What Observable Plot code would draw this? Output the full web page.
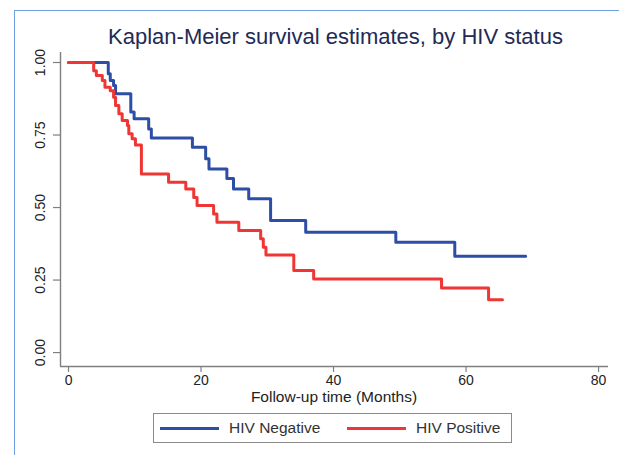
<!DOCTYPE html>
<html><head><meta charset="utf-8">
<script src="https://cdn.jsdelivr.net/npm/d3@7"></script>
<script src="https://cdn.jsdelivr.net/npm/@observablehq/plot@0.6"></script>
<style>
html,body{margin:0;padding:0;background:#fff;overflow:hidden;}
#wrap{position:relative;width:619px;height:455px;font-family:"Liberation Sans",Arial,sans-serif;overflow:hidden;}
#frame{position:absolute;left:14px;top:10px;width:700px;height:600px;border-left:1.5px solid #6f9fe2;border-top:1.5px solid #6f9fe2;}
#title{position:absolute;left:0;width:671px;top:26px;text-align:center;font-size:22px;line-height:22px;color:#222a55;white-space:nowrap;}
#xlabel{position:absolute;left:0;width:668px;top:389px;text-align:center;font-size:15.5px;line-height:16px;color:#222;white-space:nowrap;}
#legend{position:absolute;left:153px;top:413px;width:357px;height:28px;border:1.5px solid #8a8a8a;background:#fff;}
.item{position:absolute;top:0;height:28px;display:flex;align-items:center;font-size:15.5px;color:#333;white-space:nowrap;}
.sw{width:59px;height:3px;margin-right:10px;}
#plot{position:absolute;left:0;top:0;}
</style>
</head><body>
<div id="wrap">
  <div id="frame"></div>
  <div id="plot"></div>
  <div id="title"></div>
  <div id="xlabel"></div>
  <div id="legend"></div>
</div>
<script>
// ---- data ----
const title = "Kaplan-Meier survival estimates, by HIV status";
const xTitle = "Follow-up time (Months)";
const groups = ["HIV Negative", "HIV Positive"];
const groupColors = ["#2d4ea5", "#f03535"];

const negTime = [0, 6.0, 6.3, 6.8, 7.1, 9.4, 9.9, 12.1, 12.5, 18.7, 20.7, 21.2, 23.9, 24.9, 27.2, 30.5, 35.8, 49.4, 58.3, 69.0];
const negSurv = [1.0, 0.961, 0.938, 0.921, 0.892, 0.829, 0.806, 0.771, 0.740, 0.708, 0.668, 0.633, 0.600, 0.564, 0.530, 0.455, 0.415, 0.380, 0.332, 0.332];

const posTime = [0, 3.8, 4.2, 5.1, 5.5, 6.3, 6.8, 7.1, 7.6, 8.1, 8.9, 9.1, 9.6, 10.1, 11.0, 15.1, 17.7, 18.9, 19.4, 21.9, 22.4, 25.7, 29.0, 29.4, 29.8, 34.0, 37.0, 56.3, 63.4, 65.5];
const posSurv = [1.0, 0.972, 0.955, 0.938, 0.915, 0.903, 0.880, 0.852, 0.823, 0.800, 0.783, 0.754, 0.737, 0.716, 0.616, 0.587, 0.564, 0.535, 0.507, 0.478, 0.449, 0.421, 0.392, 0.363, 0.336, 0.283, 0.254, 0.223, 0.182, 0.182];

const xTicks = [0, 20, 40, 60, 80];
const yTicks = [0, 0.25, 0.5, 0.75, 1];
const xDomain = [-1.21, 81.5];
const yDomain = [-0.048, 1.0345];

// ---- build ----
const rows = [];
negTime.forEach((t, i) => rows.push({group: groups[0], t, s: negSurv[i]}));
posTime.forEach((t, i) => rows.push({group: groups[1], t, s: posSurv[i]}));

const axisColor = "#7f7f7f";
const chart = Plot.plot({
  width: 619,
  height: 455,
  marginLeft: 60,
  marginRight: 11,
  marginTop: 52,
  marginBottom: 89,
  style: {fontFamily: '"Liberation Sans", Arial, sans-serif', fontSize: "14px", color: "#222", background: "transparent"},
  x: {domain: xDomain},
  y: {domain: yDomain},
  color: {domain: groups, range: groupColors},
  marks: [
    Plot.ruleX([xDomain[0]], {stroke: axisColor, strokeWidth: 1.4}),
    Plot.ruleY([yDomain[0]], {stroke: axisColor, strokeWidth: 1.4}),
    Plot.axisY({ticks: yTicks, tickFormat: d3.format(".2f"), tickSize: 7, tickPadding: 9, tickRotate: -90, stroke: axisColor, strokeWidth: 1.2, label: null, fill: "#222"}),
    Plot.axisX({ticks: xTicks, tickFormat: d3.format("d"), tickSize: 6, tickPadding: 3, stroke: axisColor, strokeWidth: 1.2, label: null, fill: "#222"}),
    Plot.line(rows, {x: "t", y: "s", z: "group", stroke: "group", curve: "step-after", strokeWidth: 3})
  ]
});
document.getElementById("plot").appendChild(chart);
document.getElementById("title").textContent = title;
document.getElementById("xlabel").textContent = xTitle;

const lg = document.getElementById("legend");
const lefts = [6, 193];
groups.forEach((g, i) => {
  const it = document.createElement("div");
  it.className = "item";
  it.style.left = lefts[i] + "px";
  const sw = document.createElement("div");
  sw.className = "sw";
  sw.style.background = groupColors[i];
  const tx = document.createElement("span");
  tx.textContent = g;
  it.appendChild(sw); it.appendChild(tx);
  lg.appendChild(it);
});
</script>
</body></html>
